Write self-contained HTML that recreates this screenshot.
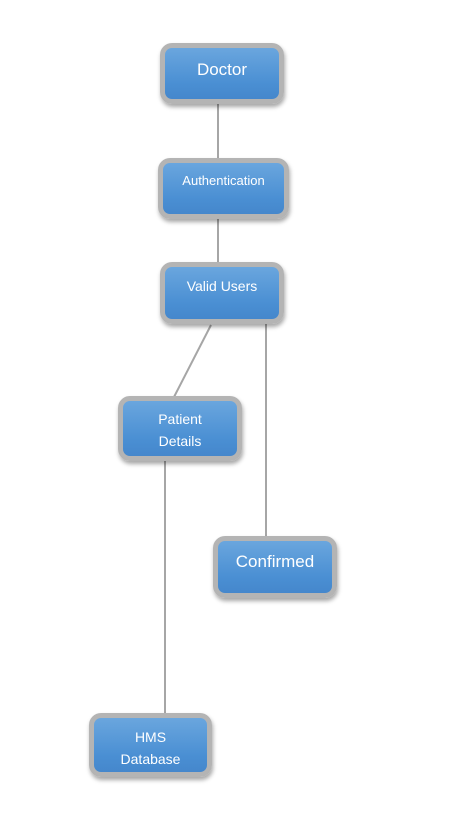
<!DOCTYPE html>
<html><head><meta charset="utf-8"><style>
html,body{margin:0;padding:0;background:#fff;width:466px;height:819px;overflow:hidden}
.n{position:absolute;box-sizing:border-box;border:5px solid #b4b4b4;border-radius:12px;
background:linear-gradient(#6aa6de,#4a8fd3 70%,#4587cc);box-shadow:1px 3px 4px rgba(0,0,0,0.35);
color:#fff;font-family:"Segoe UI","Liberation Sans","DejaVu Sans",sans-serif;display:flex;
align-items:center;justify-content:center;text-align:center;line-height:22px}
svg{position:absolute;left:0;top:0}
</style></head><body>
<svg width="466" height="819"><g stroke="#a6a6a6" stroke-width="2">
<line x1="218" y1="104" x2="218" y2="158"/>
<line x1="218" y1="219" x2="218" y2="262"/>
<line x1="211" y1="325" x2="174" y2="397"/>
<line x1="266" y1="324" x2="266" y2="536"/>
<line x1="165" y1="461" x2="165" y2="714"/>
</g></svg>
<div class="n" style="left:160px;top:43px;width:124px;height:61px;font-size:17px;padding-bottom:8px">Doctor</div>
<div class="n" style="left:158px;top:158px;width:131px;height:61px;font-size:13px;align-items:flex-start;padding-top:7px">Authentication</div>
<div class="n" style="left:160px;top:262px;width:124px;height:62px;font-size:14px;align-items:flex-start;padding-top:8px">Valid Users</div>
<div class="n" style="left:118px;top:396px;width:124px;height:65px;font-size:14px;padding-top:3px">Patient<br>Details</div>
<div class="n" style="left:213px;top:536px;width:124px;height:62px;font-size:17px;padding-bottom:10px">Confirmed</div>
<div class="n" style="left:89px;top:713px;width:123px;height:64px;font-size:14px;padding-top:6px">HMS<br>Database</div>
</body></html>
